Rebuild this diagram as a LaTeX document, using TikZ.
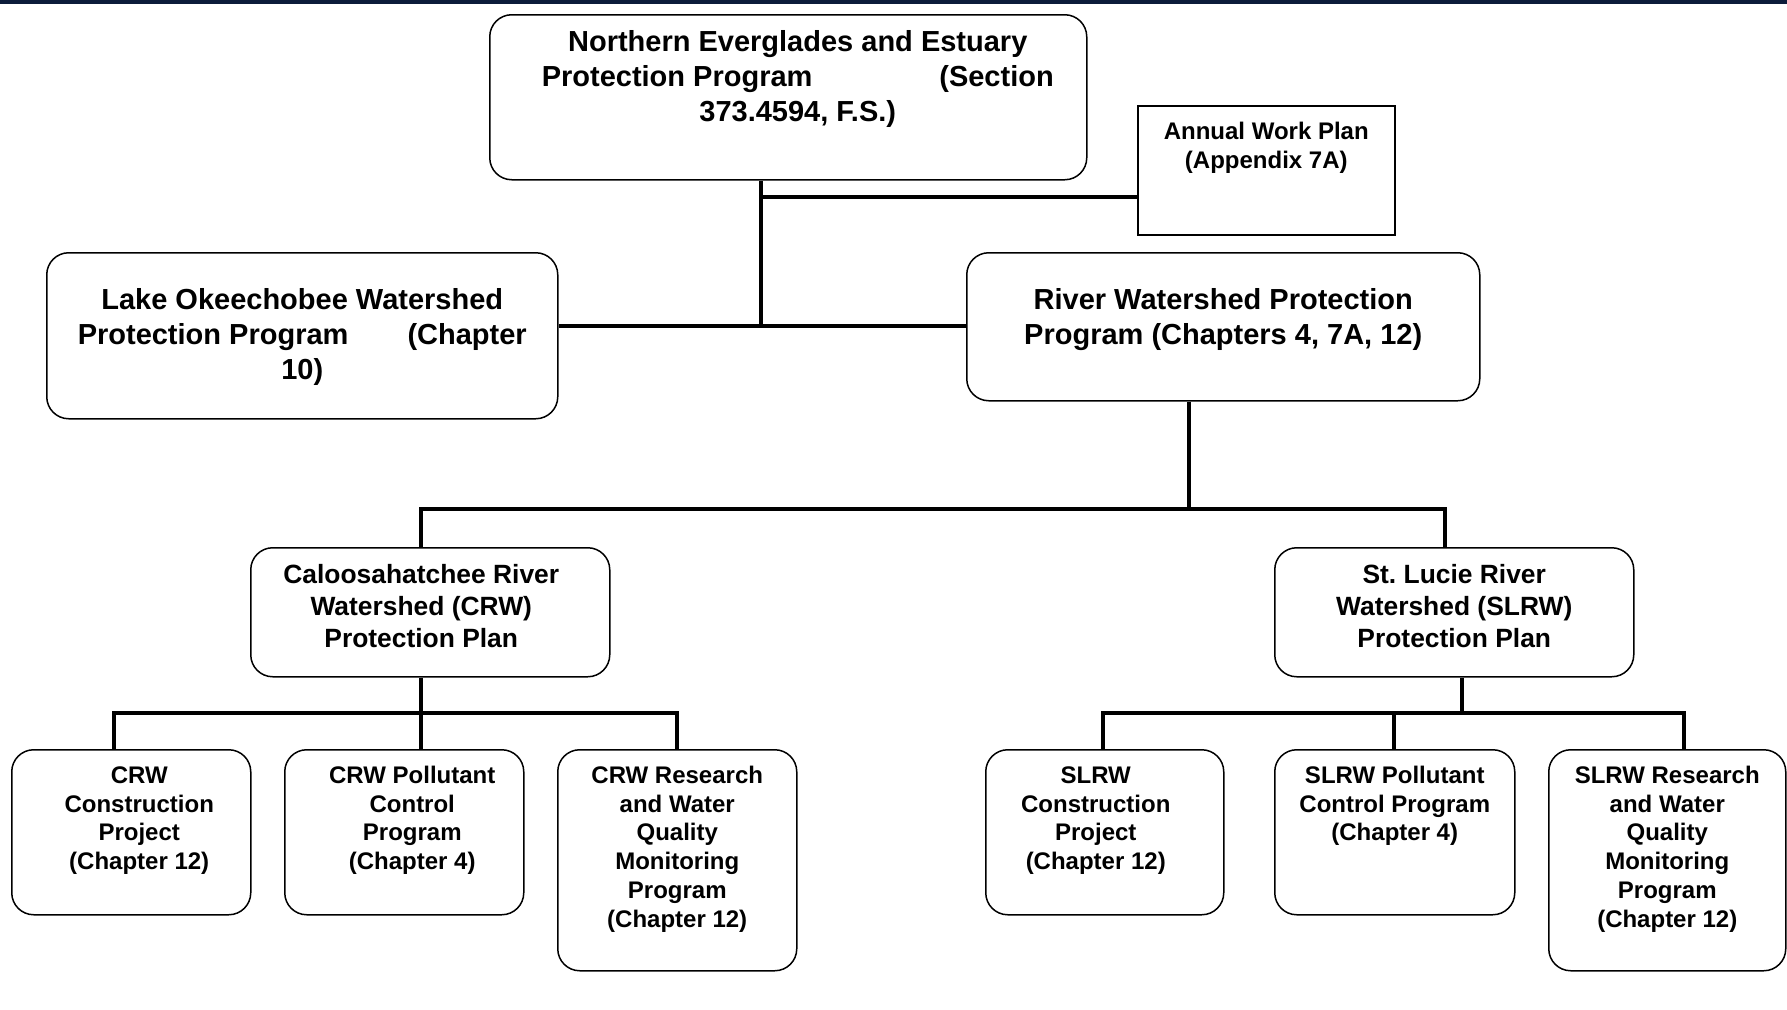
\documentclass[tikz,border=0pt]{standalone}
\usepackage{fontspec}
\setmainfont{Liberation Sans}
\usepackage{tikz}
\definecolor{bandblue}{RGB}{12,28,58}
\tikzstyle{rbox}=[rectangle,rounded corners=22pt,draw=black,line width=1.5pt,
inner sep=0pt,anchor=north west]
\tikzstyle{sbox}=[rectangle,draw=black,line width=1.5pt,inner sep=0pt,anchor=north west]
\tikzstyle{big}=[font={\fontsize{29pt}{35pt}\selectfont\bfseries}]
\tikzstyle{mid}=[font={\fontsize{26.4pt}{32pt}\selectfont\bfseries}]
\tikzstyle{small}=[font={\fontsize{24pt}{28.8pt}\selectfont\bfseries}]
\tikzstyle{line}=[line width=3.5pt]
% [left skip], width, height, first baseline, text
\newcommand{\boxtext}[5][0pt]{\parbox[c][#3][t]{#2}{\centering\leftskip=#1 plus 1fil
\rule{0pt}{#4}#5}}

\begin{document}
\begin{tikzpicture}[x=1pt,y=-1pt]
    \useasboundingbox (0,0) rectangle (1787,1009);
    \fill [bandblue] (0,0) rectangle (1787,3.5);

    \node (neepp) [rbox,big] at (489,14) {\boxtext[19pt]{597pt}{165pt}{37pt}{Northern Everglades and Estuary\\
        \makebox[512pt][s]{Protection Program\hfill(Section}\\
        373.4594, F.S.)}};
    \node (awp) [sbox,small] at (1137,105) {\boxtext{257pt}{129pt}{33.5pt}{Annual Work Plan\\(Appendix 7A)}};
    \node (lowpp) [rbox,big] at (46,252) {\boxtext{511pt}{166pt}{56.5pt}{Lake Okeechobee Watershed\\
        \makebox[449pt][s]{Protection Program\hfill(Chapter}\\10)}};
    \node (rwpp) [rbox,big] at (966,252) {\boxtext{513pt}{148pt}{56.5pt}{River Watershed Protection\\Program (Chapters 4, 7A, 12)}};

    \node (crw) [rbox,mid] at (250,547) {\boxtext[-18pt]{359pt}{129pt}{35.5pt}{Caloosahatchee River\\Watershed (CRW)\\Protection Plan}};
    \node (slrw) [rbox,mid] at (1274,547) {\boxtext{359pt}{129pt}{35.5pt}{St.\ Lucie River\\Watershed (SLRW)\\Protection Plan}};

    \node (crwc) [rbox,small] at (11,749) {\boxtext[16pt]{239pt}{165pt}{33.5pt}{CRW\\Construction\\Project\\(Chapter 12)}};
    \node (crwp) [rbox,small] at (284,749) {\boxtext[16pt]{239pt}{165pt}{33.5pt}{CRW Pollutant\\Control\\Program\\(Chapter 4)}};
    \node (crwr) [rbox,small] at (557,749) {\boxtext{239pt}{221pt}{33.5pt}{CRW Research\\and Water\\Quality\\Monitoring\\Program\\(Chapter 12)}};
    \node (slrwc) [rbox,small] at (985,749) {\boxtext[-18pt]{238pt}{165pt}{33.5pt}{SLRW\\Construction\\Project\\(Chapter 12)}};
    \node (slrwp) [rbox,small] at (1274,749) {\boxtext{240pt}{165pt}{33.5pt}{SLRW Pollutant\\Control Program\\(Chapter 4)}};
    \node (slrwr) [rbox,small] at (1548,749) {\boxtext{237pt}{221pt}{33.5pt}{SLRW Research\\and Water\\Quality\\Monitoring\\Program\\(Chapter 12)}};

    % joints of the tree
    \coordinate (j0) at (761,197);
    \coordinate (j1) at (761,326);
    \coordinate (j2) at (1189,509);
    \coordinate (k1) at (421,509);
    \coordinate (k2) at (1445,509);
    \coordinate (c0) at (421,713);
    \coordinate (c1) at (114,713);
    \coordinate (c3) at (677,713);
    \coordinate (s0) at (1462,713);
    \coordinate (s1) at (1103,713);
    \coordinate (s2) at (1394,713);
    \coordinate (s3) at (1684,713);

    \draw [line] (neepp.south -| j1) -- (j1);
    \draw [line] (j0) -- (awp.west |- j0);
    \draw [line] (lowpp.east |- j1) -- (rwpp.west |- j1);
    \draw [line] (rwpp.south -| j2) -- (j2);
    \draw [line] (crw.north -| k1) -- (k1) -- (k2) -- (slrw.north -| k2);

    \draw [line] (crw.south -| c0) -- (c0);
    \draw [line] (crwc.north -| c1) -- (c1) -- (c3) -- (crwr.north -| c3);
    \draw [line] (c0) -- (crwp.north -| c0);

    \draw [line] (slrw.south -| s0) -- (s0);
    \draw [line] (slrwc.north -| s1) -- (s1) -- (s3) -- (slrwr.north -| s3);
    \draw [line] (s2) -- (slrwp.north -| s2);
\end{tikzpicture}
\end{document}
